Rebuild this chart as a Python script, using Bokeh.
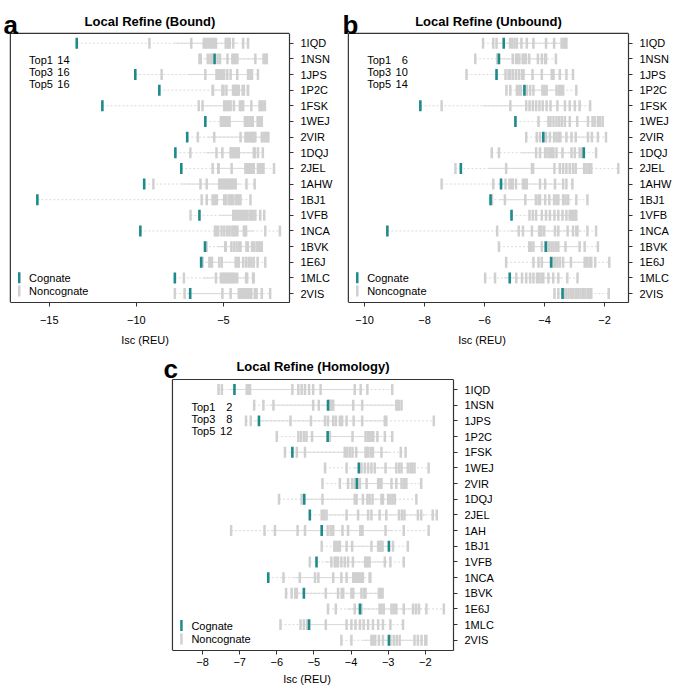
import numpy as np
from bokeh.plotting import figure
from bokeh.models import Range1d, FixedTicker, Label, Spacer, Title
from bokeh.layouts import row, column
from bokeh.embed import file_html
from bokeh.resources import INLINE

# ---------------- data ----------------
labels_ab = ["1IQD", "1NSN", "1JPS", "1P2C", "1FSK", "1WEJ", "2VIR", "1DQJ", "2JEL",
             "1AHW", "1BJ1", "1VFB", "1NCA", "1BVK", "1E6J", "1MLC", "2VIS"]
labels_c = ["1IQD", "1NSN", "1JPS", "1P2C", "1FSK", "1WEJ", "2VIR", "1DQJ", "2JEL",
            "1AH", "1BJ1", "1VFB", "1NCA", "1BVK", "1E6J", "1MLC", "2VIS"]

bound_cognate = [-13.42, -5.51, -10.06, -8.68, -11.95, -6.04, -7.08, -7.76, -7.42,
                 -9.55, -15.68, -6.38, -9.77, -6.06, -6.28, -7.79, -6.91]
bound_noncognate = [
    [-9.25, -6.85, -6.13, -6.02, -5.9, -5.78, -5.67, -5.55, -5.43, -4.87, -4.75, -4.7, -4.64, -4.44, -3.87, -3.59],
    [-6.38, -6.3, -5.9, -5.75, -5.65, -5.34, -5.2, -4.77, -4.49, -4.4, -4.3, -4.2, -3.17, -2.7, -2.6, -2.51],
    [-8.55, -6.04, -5.4, -5.35, -5.3, -5.2, -5.1, -5.0, -4.96, -4.78, -4.59, -4.21, -3.59, -3.47, -3.36, -3.02],
    [-5.62, -5.6, -5.06, -5.0, -4.83, -4.45, -4.4, -4.35, -4.3, -4.25, -4.2, -4.12, -3.9, -3.83, -3.6, -3.59],
    [-6.42, -6.2, -4.96, -4.87, -4.78, -4.68, -4.59, -4.4, -4.06, -3.97, -3.87, -3.4, -2.93, -2.85, -2.75, -2.62],
    [-5.15, -5.05, -4.95, -4.85, -4.75, -4.7, -4.65, -3.77, -3.66, -3.55, -3.43, -3.32, -3.04, -2.95, -2.88, -2.8],
    [-6.47, -5.53, -4.02, -3.74, -3.65, -3.55, -3.45, -3.35, -3.3, -3.25, -3.17, -2.8, -2.7, -2.6, -2.5, -2.42],
    [-6.9, -5.4, -5.06, -4.59, -4.55, -4.5, -4.4, -4.35, -4.3, -4.2, -4.15, -4.12, -3.26, -3.2, -3.02, -2.74],
    [-5.62, -5.3, -5.28, -4.53, -3.74, -3.65, -3.55, -3.45, -3.35, -3.26, -3.02, -2.94, -2.86, -2.78, -2.7, -2.1],
    [-9.02, -6.32, -5.96, -5.24, -5.15, -5.05, -4.95, -4.85, -4.75, -4.65, -4.6, -4.5, -4.4, -4.3, -3.68, -3.21],
    [-6.25, -5.96, -5.62, -5.5, -5.38, -4.96, -4.85, -4.7, -4.6, -4.55, -4.45, -4.3, -4.2, -4.1, -4.02, -3.45],
    [-6.89, -4.44, -4.35, -4.25, -4.15, -4.06, -3.95, -3.83, -3.74, -3.64, -3.5, -3.41, -3.3, -3.17, -2.89, -2.66],
    [-5.49, -5.4, -5.3, -5.11, -4.95, -4.78, -4.65, -4.49, -4.4, -4.3, -4.2, -3.83, -3.76, -3.7, -2.6, -1.76],
    [-5.97, -4.9, -4.87, -4.55, -4.4, -4.25, -4.1, -4.02, -3.68, -3.6, -3.36, -3.25, -3.1, -3.0, -2.9, -2.8],
    [-6.2, -5.81, -5.7, -5.66, -5.24, -5.1, -4.3, -4.2, -4.12, -3.87, -3.7, -3.55, -3.4, -3.26, -3.04, -2.6],
    [-7.27, -5.43, -5.15, -5.05, -4.95, -4.85, -4.75, -4.65, -4.55, -4.45, -4.35, -4.21, -3.7, -3.64, -3.3, -3.26],
    [-7.79, -7.23, -5.06, -4.59, -4.12, -4.0, -3.9, -3.8, -3.7, -3.6, -3.5, -3.4, -3.2, -3.1, -2.8, -2.32],
]

unbound_cognate = [-5.36, -5.52, -5.6, -4.67, -8.14, -4.97, -4.04, -2.69, -6.79,
                   -5.45, -5.8, -5.1, -9.24, -3.96, -3.78, -5.16, -3.4]
unbound_noncognate = [
    [-6.05, -5.71, -5.6, -5.15, -5.08, -5.0, -4.92, -4.77, -4.59, -4.37, -3.95, -3.68, -3.43, -3.35, -3.3, -3.27],
    [-6.31, -5.58, -5.55, -5.06, -4.95, -4.9, -4.84, -4.73, -4.68, -4.62, -4.51, -4.22, -4.09, -3.98, -3.95, -3.62],
    [-6.6, -5.3, -5.2, -5.14, -5.05, -4.95, -4.85, -4.75, -4.7, -4.4, -4.09, -3.76, -3.7, -3.49, -3.27, -3.05],
    [-5.27, -5.14, -4.92, -4.85, -4.79, -4.59, -4.48, -4.37, -4.07, -4.0, -3.93, -3.6, -3.52, -3.45, -3.38, -2.94],
    [-7.43, -5.14, -4.61, -4.5, -4.39, -4.28, -4.17, -4.06, -3.93, -3.8, -3.57, -3.32, -3.16, -2.99, -2.83, -2.48],
    [-4.2, -3.87, -3.8, -3.7, -3.6, -3.51, -3.42, -3.32, -3.16, -2.91, -2.55, -2.4, -2.33, -2.22, -2.15, -2.06],
    [-4.61, -4.26, -4.15, -3.95, -3.82, -3.68, -3.6, -3.53, -3.47, -3.27, -3.1, -2.96, -2.55, -2.42, -2.22, -1.95],
    [-5.76, -5.52, -4.28, -4.15, -3.98, -3.9, -3.82, -3.75, -3.7, -3.6, -3.4, -3.1, -2.99, -2.83, -2.75, -2.28],
    [-6.97, -5.28, -4.42, -4.38, -3.67, -3.49, -3.38, -3.27, -3.16, -3.05, -2.96, -2.68, -2.6, -2.52, -2.44, -1.54],
    [-7.43, -5.71, -5.3, -5.17, -5.1, -5.06, -4.95, -4.72, -4.65, -4.59, -4.15, -3.98, -3.65, -3.38, -3.27, -3.07],
    [-5.75, -5.32, -4.64, -4.29, -4.2, -4.15, -3.98, -3.84, -3.68, -3.6, -3.54, -3.38, -3.3, -3.21, -2.94, -2.57],
    [-4.5, -4.39, -4.28, -4.09, -3.95, -3.82, -3.67, -3.54, -3.4, -3.27, -3.16, -3.1, -3.05, -3.0, -2.97, -2.94],
    [-5.58, -4.86, -4.72, -4.42, -4.18, -4.14, -4.1, -4.01, -3.65, -3.54, -3.23, -3.05, -2.94, -2.9, -2.57, -2.28],
    [-5.52, -4.51, -4.45, -4.37, -4.09, -3.93, -3.9, -3.85, -3.77, -3.7, -3.62, -3.54, -3.3, -2.83, -2.66, -2.22],
    [-5.28, -4.37, -4.2, -4.09, -3.71, -3.65, -3.57, -3.49, -3.38, -3.12, -2.66, -2.58, -2.5, -2.44, -2.31, -1.84],
    [-5.98, -5.65, -4.94, -4.75, -4.61, -4.48, -4.37, -4.25, -4.18, -4.1, -4.04, -3.87, -3.71, -3.54, -3.24, -2.9],
    [-3.67, -3.54, -3.35, -3.28, -3.2, -3.12, -3.04, -2.96, -2.88, -2.8, -2.72, -2.64, -2.56, -2.48, -2.44, -1.86],
]

homology_cognate = [-7.14, -4.62, -6.48, -4.63, -5.58, -3.79, -3.84, -5.26, -5.11,
                    -4.79, -2.98, -4.93, -6.23, -5.27, -3.76, -5.13, -2.98]
homology_noncognate = [
    [-7.57, -7.48, -6.81, -6.76, -6.72, -5.58, -5.42, -5.33, -5.24, -5.13, -5.02, -4.82, -3.9, -3.74, -3.56, -2.89],
    [-6.61, -6.36, -6.09, -5.02, -4.87, -4.58, -4.56, -4.54, -4.5, -4.48, -3.94, -3.7, -2.78, -2.75, -2.71, -2.64],
    [-6.83, -6.7, -5.63, -5.08, -4.7, -4.62, -4.48, -4.41, -4.3, -4.24, -4.12, -3.93, -3.7, -3.09, -3.05, -1.77],
    [-6.0, -5.42, -5.35, -5.27, -5.2, -5.05, -4.57, -3.96, -3.61, -3.55, -3.5, -3.45, -3.4, -3.29, -3.09, -2.89],
    [-5.78, -5.46, -5.24, -4.17, -4.1, -4.03, -3.96, -3.86, -3.61, -3.58, -3.54, -3.47, -3.41, -3.18, -2.66, -2.53],
    [-4.7, -4.12, -3.72, -3.63, -3.54, -3.45, -3.36, -3.07, -2.78, -2.7, -2.64, -2.47, -2.4, -2.35, -2.29, -1.91],
    [-4.77, -4.3, -4.08, -3.97, -3.9, -3.76, -3.58, -3.27, -3.22, -3.18, -2.91, -2.78, -2.64, -2.57, -2.51, -2.11],
    [-5.94, -5.33, -4.77, -3.9, -3.85, -3.68, -3.56, -3.5, -3.42, -3.18, -3.14, -3.0, -2.94, -2.88, -2.82, -2.24],
    [-4.79, -4.72, -4.66, -4.12, -3.81, -3.54, -3.45, -3.23, -3.05, -2.71, -2.63, -2.56, -2.2, -2.11, -1.8, -1.69],
    [-7.23, -6.33, -6.05, -5.44, -5.24, -4.63, -4.55, -4.48, -4.23, -4.08, -3.75, -3.72, -3.69, -3.07, -2.58, -1.91],
    [-4.79, -4.45, -4.42, -4.38, -4.34, -4.3, -4.12, -3.97, -3.45, -3.27, -3.24, -3.21, -3.18, -3.15, -2.87, -2.47],
    [-5.11, -4.53, -4.44, -4.4, -4.35, -4.26, -4.17, -4.08, -3.95, -3.62, -3.58, -3.54, -3.5, -3.09, -2.94, -2.58],
    [-5.82, -5.38, -4.97, -4.88, -4.48, -4.26, -4.12, -3.94, -3.9, -3.88, -3.83, -3.78, -3.73, -3.68, -3.5, -3.48],
    [-5.75, -5.6, -5.5, -5.46, -4.68, -4.35, -4.25, -4.21, -3.99, -3.94, -3.72, -3.65, -3.61, -3.25, -3.2, -3.15],
    [-4.62, -4.41, -3.9, -3.72, -3.23, -3.18, -3.12, -2.91, -2.85, -2.78, -2.58, -2.33, -2.25, -2.17, -1.97, -1.5],
    [-5.9, -5.36, -5.27, -5.18, -4.68, -4.12, -3.99, -3.88, -3.76, -3.66, -3.54, -3.41, -3.27, -3.14, -2.94, -2.6],
    [-4.26, -3.99, -3.45, -3.4, -3.35, -3.25, -3.14, -2.94, -2.85, -2.77, -2.69, -2.29, -2.2, -2.1, -2.0, -1.97],
]

bound_ticks = [-15, -10, -5]
unbound_ticks = [-10, -8, -6, -4, -2]
homology_ticks = [-8, -7, -6, -5, -4, -3, -2]

bound_top = [("Top1", "14"), ("Top3", "16"), ("Top5", "16")]
unbound_top = [("Top1", "6"), ("Top3", "10"), ("Top5", "14")]
homology_top = [("Top1", "2"), ("Top3", "8"), ("Top5", "12")]

# ---------------- styles ----------------
FONT = "Liberation Sans"
TEAL = "#1E8A8C"
GREY = "#D0D0D0"
LINE = "#DADADA"
DARK = "#333333"


def panel(letter, title, labels, cognate, noncog, xlim, ylim, ticks, tops,
          width, height, box_left, box_top, right, bottom,
          tick_standoff, label_standoff, title_off, letter_dx, letter_dy):
    n = len(labels)
    ys = [n - i for i in range(n)]
    bw = width - box_left - right
    bh = height - box_top - bottom
    pxu = bw / (xlim[1] - xlim[0])
    pyu = bh / (ylim[1] - ylim[0])
    fx0 = xlim[0] - box_left / pxu
    fy1 = ylim[1] + box_top / pyu

    p = figure(width=width, height=height, output_backend="svg", toolbar_location=None,
               x_range=Range1d(fx0, xlim[1]), y_range=Range1d(ylim[0], fy1),
               y_axis_location="right",
               min_border_left=0, min_border_right=right,
               min_border_top=0, min_border_bottom=bottom)
    p.grid.visible = False
    p.outline_line_color = None
    p.background_fill_color = "white"
    p.border_fill_color = "white"

    X = lambda px: xlim[0] + px / pxu
    YT = lambda px: ylim[1] - px / pyu
    YB = lambda px: ylim[0] + px / pyu

    # axes
    xa = p.xaxis[0]
    xa.ticker = FixedTicker(ticks=ticks)
    xa.major_label_overrides = {t: ("\u2212" + str(abs(t)) if t < 0 else str(t)) for t in ticks}
    xa.bounds = (xlim[0], xlim[1])
    ya = p.yaxis[0]
    ya.ticker = FixedTicker(ticks=ys)
    ya.major_label_overrides = {y: lab for y, lab in zip(ys, labels)}
    ya.bounds = (ylim[0], ylim[1])
    for ax in (xa, ya):
        ax.axis_line_color = DARK
        ax.axis_line_width = 1.2
        ax.major_tick_line_color = DARK
        ax.major_tick_out = 4
        ax.major_tick_in = 0
        ax.minor_tick_line_color = None
        ax.major_label_text_font = FONT
        ax.major_label_text_font_size = "11px"
        ax.major_label_text_color = "black"
    ya.major_label_standoff = 7
    xa.major_label_standoff = tick_standoff

    # x-axis label as a Title below, shifted to centre on the box
    p.add_layout(Title(text="Isc (REU)", align="center", offset=box_left / 2,
                       text_font=FONT, text_font_size="11px", text_font_style="normal",
                       text_color="black", standoff=label_standoff), "below")

    # box left and top edges
    p.segment(x0=[xlim[0], xlim[0]], y0=[ylim[0], ylim[1]], x1=[xlim[0], xlim[1]], y1=[ylim[1], ylim[1]],
              line_color=DARK, line_width=1.2)

    # row lines and ticks
    mins, maxs, lo, hi = [], [], [], []
    gx, gy0, gy1 = [], [], []
    for y, c, nc in zip(ys, cognate, noncog):
        allv = np.array(list(nc) + [c])
        mins.append(allv.min())
        maxs.append(allv.max())
        lo.append(np.percentile(allv, 10))
        hi.append(np.percentile(allv, 90))
        for v in nc:
            gx.append(v)
            gy0.append(y - 0.35)
            gy1.append(y + 0.35)
    p.segment(x0=mins, x1=maxs, y0=ys, y1=ys, line_color=LINE, line_width=1, line_dash="2 2")
    p.segment(x0=lo, x1=hi, y0=ys, y1=ys, line_color=LINE, line_width=1)
    p.segment(x0=gx, x1=gx, y0=gy0, y1=gy1, line_color=GREY, line_width=2.5)
    p.segment(x0=cognate, x1=cognate, y0=[y - 0.35 for y in ys], y1=[y + 0.35 for y in ys],
              line_color=TEAL, line_width=2.6)

    # Top-N text
    for k, (a, b) in enumerate(tops):
        yy = YT(27 + 12 * k)
        p.add_layout(Label(x=X(19), y=yy, text=a, text_font=FONT, text_font_size="11px",
                           text_baseline="middle", text_align="left", text_color="black"))
        p.add_layout(Label(x=X(60), y=yy, text=b, text_font=FONT, text_font_size="11px",
                           text_baseline="middle", text_align="right", text_color="black"))

    # legend
    for k, (txt, col) in enumerate([("Cognate", TEAL), ("Noncognate", GREY)]):
        cy = 25 - 13.5 * k
        p.segment(x0=[X(9)], x1=[X(9)], y0=[YB(cy - 5.5)], y1=[YB(cy + 5.5)],
                  line_color=col, line_width=2.5)
        p.add_layout(Label(x=X(19), y=YB(cy), text=txt, text_font=FONT, text_font_size="11px",
                           text_baseline="middle", text_align="left", text_color="black"))

    # title & panel letter
    p.add_layout(Label(x=(xlim[0] + xlim[1]) / 2, y=YT(-title_off), text=title, text_font=FONT,
                       text_font_size="13px", text_font_style="bold", text_baseline="middle",
                       text_align="center", text_color="black"))
    p.add_layout(Label(x=X(letter_dx), y=YT(-letter_dy), text=letter, text_font=FONT,
                       text_font_size="26px", text_font_style="bold", text_baseline="alphabetic",
                       text_align="left", text_color="black"))
    return p


pa = panel("a", "Local Refine (Bound)", labels_ab, bound_cognate, bound_noncognate,
           (-17.23, -1.21), (0.43, 17.635), bound_ticks, bound_top,
           335, 350, 10, 33, 42, 46, 9, 10, 11.5, -7, 8)
pb = panel("b", "Local Refine (Unbound)", labels_ab, unbound_cognate, unbound_noncognate,
           (-10.54, -1.2), (0.43, 17.635), unbound_ticks, unbound_top,
           339, 350, 13, 33, 43, 46, 9, 10, 11.5, -6, 8)
pc = panel("c", "Local Refine (Homology)", labels_c, homology_cognate, homology_noncognate,
           (-8.81, -1.24), (0.35, 17.64), homology_ticks, homology_top,
           336, 338, 12, 29, 42, 38, 3, 5, 13, -9, 10.5)

layout = column(row(pa, pb), row(Spacer(width=160, height=10), pc))

open("out.html", "w").write(file_html(layout, INLINE))
